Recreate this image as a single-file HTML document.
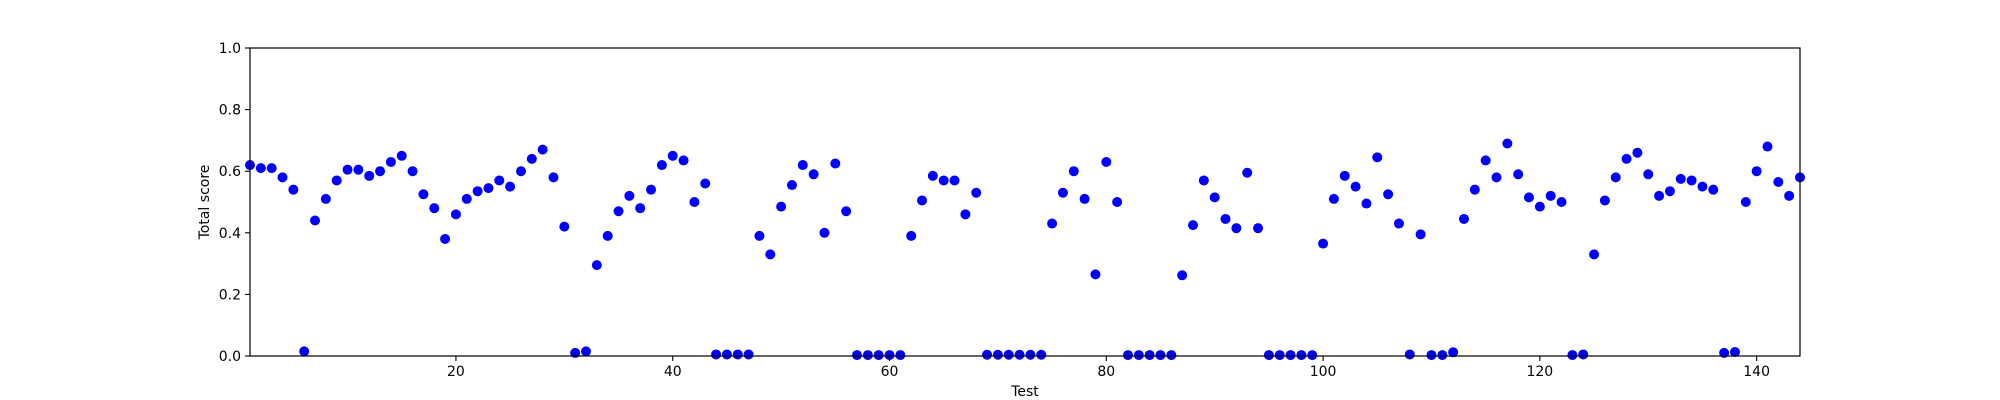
<!DOCTYPE html>
<html><head><meta charset="utf-8"><style>
body{margin:0;background:#fff;}
svg{display:block;font-family:"DejaVu Sans","Liberation Sans",sans-serif;}
</style></head><body>
<svg id="chart" width="2000" height="400"></svg>
<script>
const testIds=[];for(let i=1;i<=144;i++)testIds.push(i);
const scores=[0.62,0.61,0.61,0.58,0.54,0.015,0.44,0.51,0.57,0.605,0.605,0.585,0.60,0.63,0.65,0.60,0.525,0.48,0.38,0.46,
0.51,0.535,0.545,0.57,0.55,0.60,0.64,0.67,0.58,0.42,0.01,0.015,0.295,0.39,0.47,0.52,0.48,0.54,0.62,0.65,
0.635,0.50,0.56,0.005,0.005,0.005,0.005,0.39,0.33,0.485,0.555,0.62,0.59,0.40,0.625,0.47,0.003,0.003,0.003,0.003,
0.003,0.39,0.505,0.585,0.57,0.57,0.46,0.53,0.004,0.004,0.004,0.004,0.004,0.004,0.43,0.53,0.60,0.51,0.265,0.63,
0.50,0.003,0.003,0.003,0.003,0.003,0.262,0.425,0.57,0.515,0.445,0.415,0.595,0.415,0.003,0.003,0.003,0.003,0.003,0.365,
0.51,0.585,0.55,0.495,0.645,0.525,0.43,0.005,0.395,0.003,0.003,0.012,0.445,0.54,0.635,0.58,0.69,0.59,0.515,0.485,
0.52,0.50,0.003,0.005,0.33,0.505,0.58,0.64,0.66,0.59,0.52,0.535,0.575,0.57,0.55,0.54,0.01,0.013,0.50,0.60,
0.68,0.565,0.52,0.58];
const xTicks=[20,40,60,80,100,120,140];
const yTicks=[0,0.2,0.4,0.6,0.8,1.0];
const L=250,R=1800,T=48,B=356,xMin=1,xMax=144;
const xs=v=>L+(v-xMin)/(xMax-xMin)*(R-L);
const ys=v=>B-v*(B-T);
const NS="http://www.w3.org/2000/svg";
const svg=document.getElementById('chart');
function mk(t,a,p){const e=document.createElementNS(NS,t);for(const k in a)e.setAttribute(k,a[k]);(p||svg).appendChild(e);return e;}
const pts=mk('g',{});


testIds.forEach((t,i)=>{const c=mk('circle',{cx:xs(t),cy:ys(scores[i]),r:5,fill:'#0000ff'},pts);

});
const frame=mk('rect',{x:L,y:T,width:R-L,height:B-T,fill:'none',stroke:'#000','stroke-width':1.2});


xTicks.forEach(v=>{const x=xs(v);mk('line',{x1:x,x2:x,y1:B,y2:B+5,stroke:'#000','stroke-width':1.1});
const t=mk('text',{x:x,y:B+20,'font-size':14,'text-anchor':'middle',fill:'#000'});t.textContent=v;

});
yTicks.forEach(v=>{const y=ys(v);mk('line',{x1:L-5,x2:L,y1:y,y2:y,stroke:'#000','stroke-width':1.1});
const t=mk('text',{x:L-9,y:y+5,'font-size':14,'text-anchor':'end',fill:'#000'});t.textContent=v.toFixed(1);

});
const xl=mk('text',{x:(L+R)/2,y:396,'font-size':14,'text-anchor':'middle',fill:'#000'});xl.textContent='Test';


const yl=mk('text',{x:0,y:0,'font-size':14,'text-anchor':'middle',fill:'#000',transform:`translate(209,${(T+B)/2}) rotate(-90)`});yl.textContent='Total score';


</script>
</body></html>
